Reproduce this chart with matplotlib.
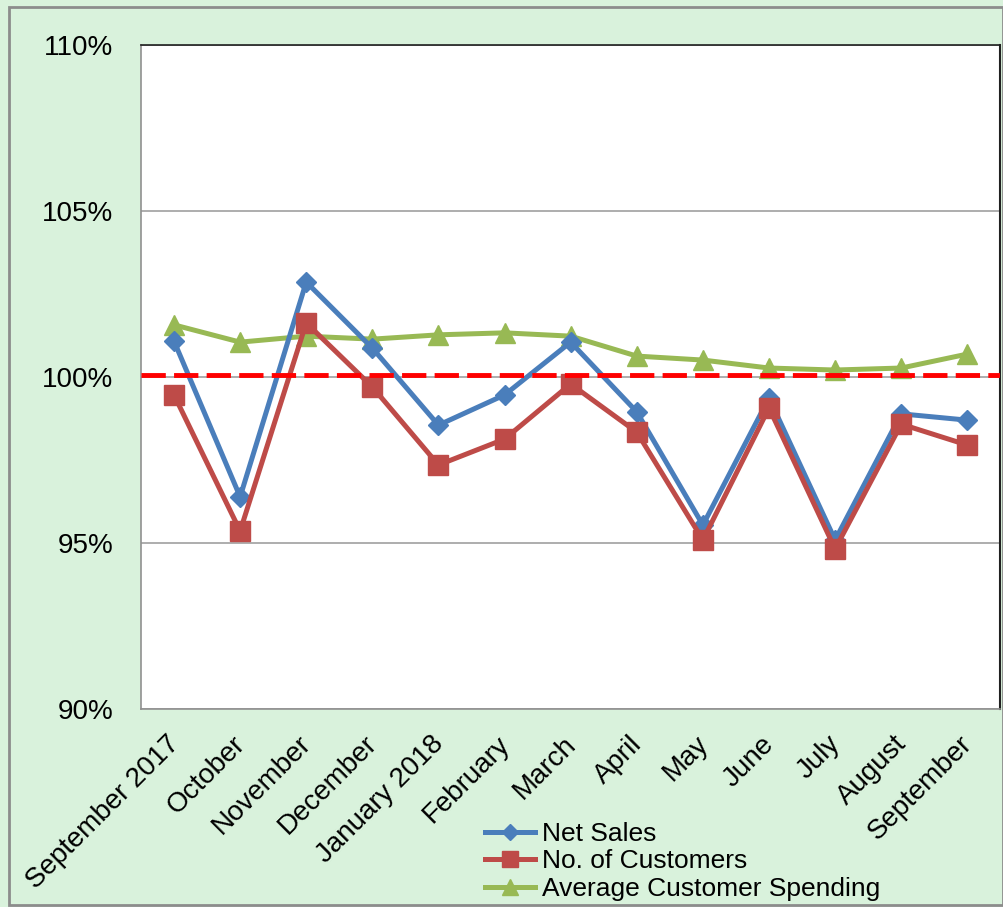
import matplotlib
matplotlib.use("Agg")
import matplotlib.pyplot as plt
from matplotlib.patches import Rectangle
from matplotlib.transforms import ScaledTranslation

plt.rcParams['font.family'] = ['Liberation Sans', 'DejaVu Sans']

months = ["September 2017", "October", "November", "December", "January 2018",
          "February", "March", "April", "May", "June", "July", "August", "September"]
net_sales = [101.08, 96.39, 102.86, 100.87, 98.55, 99.46, 101.05, 98.95, 95.54, 99.37, 95.09, 98.89, 98.70]
customers = [99.46, 95.36, 101.63, 99.70, 97.35, 98.13, 99.79, 98.34, 95.09, 99.07, 94.82, 98.58, 97.95]
avg_spend = [101.57, 101.05, 101.23, 101.14, 101.27, 101.33, 101.23, 100.63, 100.51, 100.27, 100.21, 100.27, 100.69]
baseline = 100.07
yticks = [90, 95, 100, 105, 110]
ytick_labels = ["90%", "95%", "100%", "105%", "110%"]

fig = plt.figure(figsize=(10.04, 9.07), dpi=100)
fig.patch.set_facecolor("#d9f2dc")
fig.add_artist(Rectangle((0.009, 0.002), 0.99, 0.99, transform=fig.transFigure,
                         fill=False, edgecolor="#8c8c8c", linewidth=2))

ax = fig.add_axes([0.1404, 0.2183, 0.856, 0.7321])
ax.set_facecolor("white")
x = list(range(len(months)))

ax.plot(x, net_sales, color="#4a7ebb", lw=3.6, marker="D", ms=10.5, label="Net Sales", zorder=4)
ax.plot(x, customers, color="#be4b48", lw=3.6, marker="s", ms=14, label="No. of Customers", zorder=5)
ax.plot(x, avg_spend, color="#98b954", lw=3.6, marker="^", ms=14, label="Average Customer Spending", zorder=3)
ax.axhline(baseline, color="#ff0000", lw=3.5, ls=(0, (5, 1.7)), zorder=6)

ax.set_xlim(-0.5, len(months) - 0.5)
ax.set_ylim(90, 110)
ax.set_yticks(yticks)
ax.set_yticklabels(ytick_labels, fontsize=20)
ax.yaxis.grid(True, color="#a0a0a0", lw=1.2)
ax.set_axisbelow(True)
ax.tick_params(axis="y", length=0, pad=20)
ax.tick_params(axis="x", length=0, pad=0)
ax.set_xticks(x)
ax.set_xticklabels(months, rotation=45, ha="right", rotation_mode="anchor", fontsize=20)
for lbl in ax.get_xticklabels():
    lbl.set_transform(lbl.get_transform() + ScaledTranslation(-0.08, -0.22, fig.dpi_scale_trans))

for s in ["left", "bottom"]:
    ax.spines[s].set_color("#909090")
    ax.spines[s].set_linewidth(1.2)
ax.spines["top"].set_color("#202020")
ax.spines["top"].set_linewidth(1.2)
ax.spines["right"].set_color("#202020")
ax.spines["right"].set_linewidth(1.5)

handles, labels = ax.get_legend_handles_labels()
fig.legend(handles, labels, loc="upper left", bbox_to_anchor=(0.483, 0.094),
           frameon=False, fontsize=19, handlelength=1.9, handletextpad=0.25,
           labelspacing=0.14, borderaxespad=0, borderpad=0, markerscale=0.8)

fig.savefig("out.png", dpi=100, facecolor=fig.get_facecolor())
